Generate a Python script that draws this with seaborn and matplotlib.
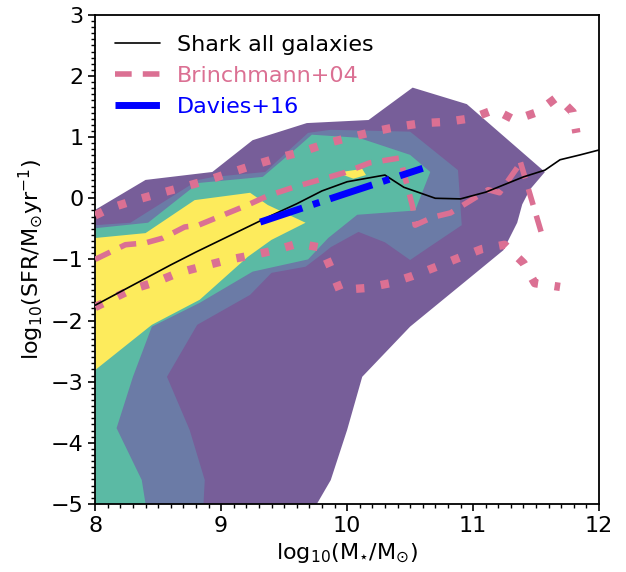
import numpy as np
import pandas as pd
import matplotlib
matplotlib.use("Agg")
import matplotlib.pyplot as plt
from matplotlib.ticker import MultipleLocator
import seaborn as sns

## Shark density contours, outline of each filled level (log10 M*, log10 SFR)
lvl1_x = [8.0, 8.40, 8.93, 9.25, 9.68, 10.17, 10.52, 10.95, 11.57, 11.45, 11.39, 11.35,
          11.24, 10.98, 10.50, 10.12, 10.0, 9.87, 9.76, 8.0]
lvl1_y = [-0.19, 0.30, 0.43, 0.95, 1.23, 1.28, 1.81, 1.54, 0.43, 0.14, -0.10, -0.40,
          -0.85, -1.29, -2.10, -2.92, -3.79, -4.61, -5.0, -5.0]

lvl2_x = [8.0, 8.28, 8.82, 8.94, 9.35, 9.69, 9.87, 10.50, 10.88, 10.91, 10.65, 10.50,
          10.30, 10.09, 9.87, 9.81, 9.67, 9.40, 9.23, 8.81, 8.57, 8.75, 8.87, 8.86, 8.0]
lvl2_y = [-0.44, -0.40, 0.30, 0.35, 0.43, 1.07, 1.12, 1.09, 0.46, -0.44, -0.80, -1.01,
          -0.72, -0.55, -0.80, -0.90, -1.12, -1.22, -1.58, -2.07, -2.92, -3.79, -4.61, -5.0, -5.0]

lvl3_x = [8.0, 8.42, 8.82, 9.33, 9.61, 9.72, 10.09, 10.50, 10.66, 10.54, 10.08, 9.85,
          9.69, 9.25, 8.83, 8.45, 8.30, 8.17, 8.37, 8.40, 8.0]
lvl3_y = [-0.49, -0.40, 0.25, 0.35, 0.84, 1.04, 0.99, 0.71, 0.43, -0.20, -0.27, -0.65,
          -1.0, -1.2, -1.71, -2.1, -2.92, -3.76, -4.61, -5.0, -5.0]

lvl4_x = [8.0, 8.40, 8.79, 9.23, 9.37, 9.67, 9.40, 9.21, 8.83, 8.45, 8.0]
lvl4_y = [-0.65, -0.57, -0.03, 0.09, -0.11, -0.40, -0.68, -0.96, -1.66, -2.07, -2.81]

lvl4b_x = [9.92, 10.12, 10.15, 10.05]
lvl4b_y = [0.42, 0.48, 0.38, 0.32]

level_colors = ['#775e99', '#6b7ba6', '#5bbaa4', '#fdeb5c']

## Shark median
shark_m = [8.0, 8.2, 8.4, 8.6, 8.8, 9.0, 9.2, 9.4, 9.6, 9.8, 10.0, 10.3, 10.45, 10.7,
           10.9, 11.1, 11.4, 11.57, 11.69, 11.85, 12.0]
shark_sfr = [-1.75, -1.53, -1.31, -1.09, -0.88, -0.68, -0.48, -0.28, -0.09, 0.12, 0.27,
             0.38, 0.18, 0.0, -0.01, 0.10, 0.35, 0.46, 0.63, 0.71, 0.79]

## Brinchmann+04 median and percentiles
b04_m = [8.0, 8.24, 8.40, 8.54, 8.71, 8.82, 9.21, 9.37, 9.59, 9.83, 9.98, 10.18, 10.42,
         10.52, 10.54, 10.68, 10.82, 11.12, 11.21, 11.35, 11.37, 11.55]
b04_sfr = [-1.0, -0.76, -0.73, -0.65, -0.47, -0.44, -0.11, 0.04, 0.19, 0.33, 0.42, 0.58,
           0.66, -0.14, -0.44, -0.31, -0.24, 0.14, 0.09, 0.50, 0.63, -0.62]

b04_hi_m = [8.0, 8.12, 8.32, 8.53, 8.71, 8.90, 9.09, 9.27, 9.45, 9.64, 9.84, 10.01, 10.21,
            10.40, 10.60, 10.79, 10.99, 11.17, 11.33, 11.51, 11.67, 11.79, 11.82]
b04_hi_sfr = [-0.28, -0.16, -0.03, 0.09, 0.19, 0.30, 0.43, 0.55, 0.66, 0.76, 0.90, 0.99,
              1.09, 1.17, 1.23, 1.25, 1.31, 1.45, 1.28, 1.41, 1.66, 1.41, 1.07]

b04_lo_m = [8.0, 8.12, 8.29, 8.48, 8.66, 8.86, 9.05, 9.25, 9.43, 9.61, 9.80, 9.87, 9.94,
            10.14, 10.34, 10.52, 10.71, 10.88, 11.07, 11.25, 11.40, 11.49, 11.69]
b04_lo_sfr = [-1.78, -1.66, -1.49, -1.37, -1.22, -1.11, -1.01, -0.93, -0.85, -0.74, -0.81,
              -1.14, -1.50, -1.47, -1.39, -1.27, -1.12, -0.98, -0.83, -0.76, -1.06, -1.39, -1.45]

## Davies+16 fit
d16_m = [9.31, 9.95, 10.6]
d16_sfr = [-0.39, 0.05, 0.49]

pink = 'palevioletred'

sns.set_style('ticks')
plt.rcParams['font.family'] = ['DejaVu Sans']
plt.rcParams['mathtext.fontset'] = 'dejavusans'
plt.rcParams.update({'text.color': 'k', 'axes.labelcolor': 'k',
                     'xtick.color': 'k', 'ytick.color': 'k'})

fig = plt.figure(figsize=(6.26, 5.72), dpi=100)
ax = fig.add_axes([0.152, 0.119, 0.805, 0.855])

for px, py, c in zip([lvl1_x, lvl2_x, lvl3_x, lvl4_x, lvl4b_x],
                     [lvl1_y, lvl2_y, lvl3_y, lvl4_y, lvl4b_y],
                     level_colors + [level_colors[3]]):
    ax.fill(px, py, color=c, lw=0, zorder=1)

sns.lineplot(x=b04_m, y=b04_sfr, sort=False, estimator=None, color=pink, lw=4,
             linestyle=(0, (3, 2)), ax=ax, zorder=3, label='Brinchmann+04')
sns.lineplot(x=b04_hi_m, y=b04_hi_sfr, sort=False, estimator=None, color=pink, lw=6,
             linestyle=(0, (1, 2)), ax=ax, zorder=3)
sns.lineplot(x=b04_lo_m, y=b04_lo_sfr, sort=False, estimator=None, color=pink, lw=6,
             linestyle=(0, (1, 2)), ax=ax, zorder=3)
sns.lineplot(x=shark_m, y=shark_sfr, sort=False, estimator=None, color='k', lw=1.2,
             ax=ax, zorder=4, label='Shark all galaxies')
sns.lineplot(x=d16_m, y=d16_sfr, sort=False, estimator=None, color='blue', lw=5,
             linestyle='-.', ax=ax, zorder=5, label='Davies+16')

ax.set_xlim(8, 12)
ax.set_ylim(-5, 3)
ax.xaxis.set_minor_locator(MultipleLocator(0.1))
ax.yaxis.set_minor_locator(MultipleLocator(0.1))
ax.tick_params(which='major', direction='out', length=5, width=1.2, labelsize=16,
               colors='k')
ax.tick_params(which='minor', direction='out', length=3, width=1.0, colors='k')
for s in ax.spines.values():
    s.set_linewidth(1.3)
    s.set_color('k')

ax.set_xlabel(r'$\rm log_{10}(M_{\star}/M_{\odot})$', fontsize=16)
ax.set_ylabel(r'$\rm log_{10}(SFR/M_{\odot}yr^{-1})$', fontsize=16)

h, l = ax.get_legend_handles_labels()
order = [l.index('Shark all galaxies'), l.index('Brinchmann+04'), l.index('Davies+16')]
leg = ax.legend([h[i] for i in order], [l[i] for i in order], loc='upper left',
                frameon=False, fontsize=16)
for t, c in zip(leg.get_texts(), ['k', pink, 'blue']):
    t.set_color(c)

fig.savefig('out.png', dpi=100)
